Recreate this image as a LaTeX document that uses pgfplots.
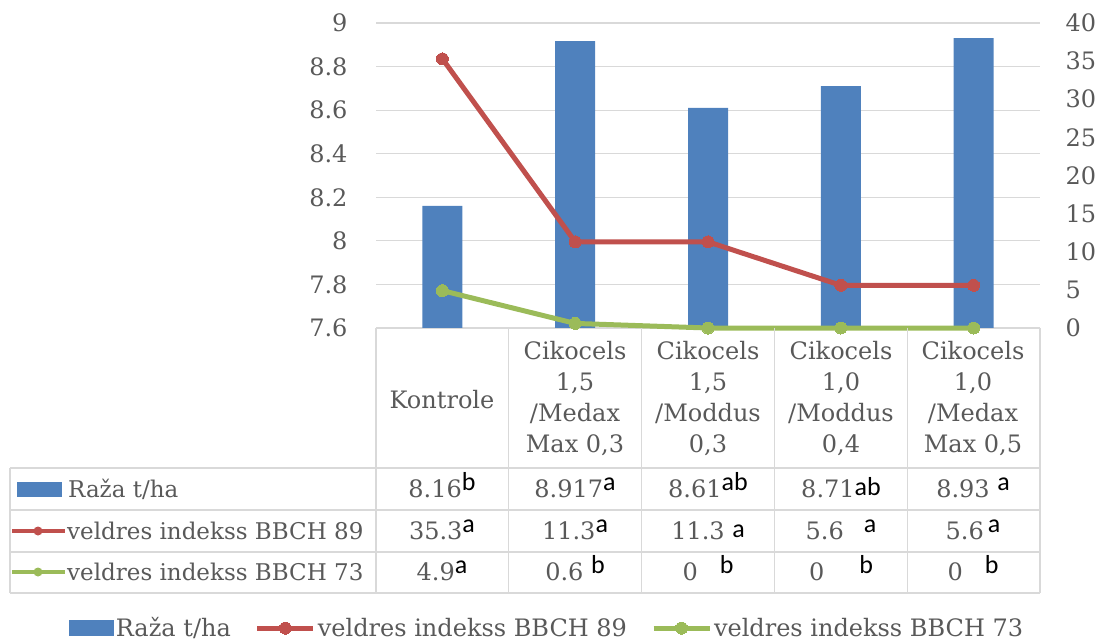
\documentclass[border=0pt]{standalone}
\usepackage{pgfplots}
\pgfplotsset{compat=1.18}
\usepackage{fontspec}
\setmainfont{DejaVu Serif}
\newfontfamily\supfont{Carlito}
\definecolor{xblue}{HTML}{4F81BD}
\definecolor{xred}{HTML}{C0504D}
\definecolor{xgreen}{HTML}{9BBB59}
\definecolor{txt}{HTML}{595959}
\definecolor{gridc}{HTML}{D9D9D9}
\newcommand{\sups}[1]{{\supfont\fontsize{26}{28}\selectfont\color{black}\raisebox{7pt}{#1}}}
\newcommand{\lows}[1]{{\supfont\fontsize{26}{28}\selectfont\color{black}\raisebox{2pt}{#1}}}
\newcommand{\tf}{\fontsize{24}{31}\selectfont}
\newcommand{\tl}{\fontsize{23}{28}\selectfont}
\newcommand{\tk}{\fontsize{24}{28}\selectfont}
\begin{document}
\begin{tikzpicture}[x=1pt,y=1pt]
\begin{axis}[
  at={(376pt,315pt)}, anchor=south west,
  scale only axis, width=664pt, height=305pt,
  xmin=-0.5, xmax=4.5, ymin=7.6, ymax=9,
  ytick={7.6,7.8,8,8.2,8.4,8.6,8.8,9},
  xtick=\empty,
  axis line style={draw=none},
  major tick length=0pt,
  ymajorgrids, grid style={gridc, line width=1.2pt},
  yticklabel style={font=\tk, text=txt, xshift=-25pt},
  /pgf/number format/assume math mode=true,
]
\addplot[ybar, bar width=40pt, fill=xblue, draw=none] coordinates {(0,8.16) (1,8.917) (2,8.61) (3,8.71) (4,8.93)};
\end{axis}
\begin{axis}[
  at={(376pt,315pt)}, anchor=south west,
  scale only axis, width=664pt, height=305pt,
  xmin=-0.5, xmax=4.5, ymin=0, ymax=40,
  ytick={0,5,10,15,20,25,30,35,40},
  yticklabel pos=right,
  xtick=\empty,
  axis line style={draw=none},
  major tick length=0pt,
  clip=false,
  yticklabel style={font=\tk, text=txt, xshift=22pt},
  /pgf/number format/assume math mode=true,
  legend columns=3,
  legend style={draw=none, fill=none, at={(axis description cs:0.258,-0.984)}, anchor=center,
    font=\tf, text=txt, /tikz/every even column/.append style={column sep=22pt}},
  legend image code/.code={\draw[mark repeat=2,mark phase=2] plot coordinates {(0pt,0pt) (28pt,0pt) (56pt,0pt)};},
]
\addlegendimage{legend image code/.code={\fill[xblue] (0pt,-7pt) rectangle (44pt,8pt);}}
\addlegendentry{Raža t/ha}
\addplot[xred, line width=5pt, line join=round, mark=*, mark size=6pt, mark options={fill=xred, draw=xred, line width=0pt}] coordinates {(0,35.3) (1,11.3) (2,11.3) (3,5.6) (4,5.6)};
\addlegendentry{veldres indekss BBCH 89}
\addplot[xgreen, line width=5pt, line join=round, mark=*, mark size=6pt, mark options={fill=xgreen, draw=xgreen, line width=0pt}] coordinates {(0,4.9) (1,0.6) (2,0) (3,0) (4,0)};
\addlegendentry{veldres indekss BBCH 73}
\end{axis}
% data table
\begin{scope}[gridc, line width=1.2pt]
\draw (10,175) -- (1040,175);
\draw (10,133) -- (1040,133);
\draw (10,91) -- (1040,91);
\draw (10,50) -- (1040,50);
\draw (10,175) -- (10,50);
\foreach \x in {376,508.8,641.6,774.4,907.2,1040} {\draw (\x,315) -- (\x,50);}
\end{scope}
\begin{scope}[every node/.style={text=txt, font=\tf, inner sep=0pt, align=center}]
\node at (442,243) {Kontrole};
\node at (575,244) {Cikocels\\1,5\\/Medax\\Max 0,3};
\node at (708,244) {Cikocels\\1,5\\/Moddus\\0,3};
\node at (841,244) {Cikocels\\1,0\\/Moddus\\0,4};
\node at (973,244) {Cikocels\\1,0\\/Medax\\Max 0,5};
% row labels
\fill[xblue] (17,146) rectangle (62,161);
\node[anchor=base west, font=\tl] at (68,146) {Raža t/ha};
\draw[xred, line width=4pt] (12,112) -- (65,112);
\fill[xred] (38,112) circle (4.5pt);
\node[anchor=base west, font=\tl] at (67,104) {veldres indekss BBCH 89};
\draw[xgreen, line width=4pt] (12,71) -- (65,71);
\fill[xgreen] (38,71) circle (4.5pt);
\node[anchor=base west, font=\tl] at (67,63) {veldres indekss BBCH 73};
% row 1
\node[anchor=base] at (442,146) {8.16\sups{b}};
\node[anchor=base] at (575,146) {8.917\sups{a}};
\node[anchor=base] at (708,146) {8.61\sups{ab}};
\node[anchor=base] at (841,146) {8.71\lows{ab}};
\node[anchor=base] at (973,146) {8.93 \sups{a}};
% row 2
\node[anchor=base] at (442,104) {35.3\sups{a}};
\node[anchor=base] at (575,104) {11.3\sups{a}};
\node[anchor=base] at (708,104) {11.3 \lows{a}};
\node[anchor=base] at (841,104) {5.6\hspace{20pt}\sups{a}};
\node[anchor=base] at (973,104) {5.6\,\sups{a}};
% row 3
\node[anchor=base] at (442,63) {4.9\sups{a}};
\node[anchor=base] at (575,63) {0.6 \sups{b}};
\node[anchor=base] at (708,63) {0\hspace{22pt}\sups{b}};
\node[anchor=base] at (841,63) {0\hspace{35pt}\sups{b}};
\node[anchor=base] at (973,63) {0\hspace{22pt}\sups{b}};
\end{scope}
\pgfresetboundingbox
\path (0,0) rectangle (1099,643);
\end{tikzpicture}
\end{document}
